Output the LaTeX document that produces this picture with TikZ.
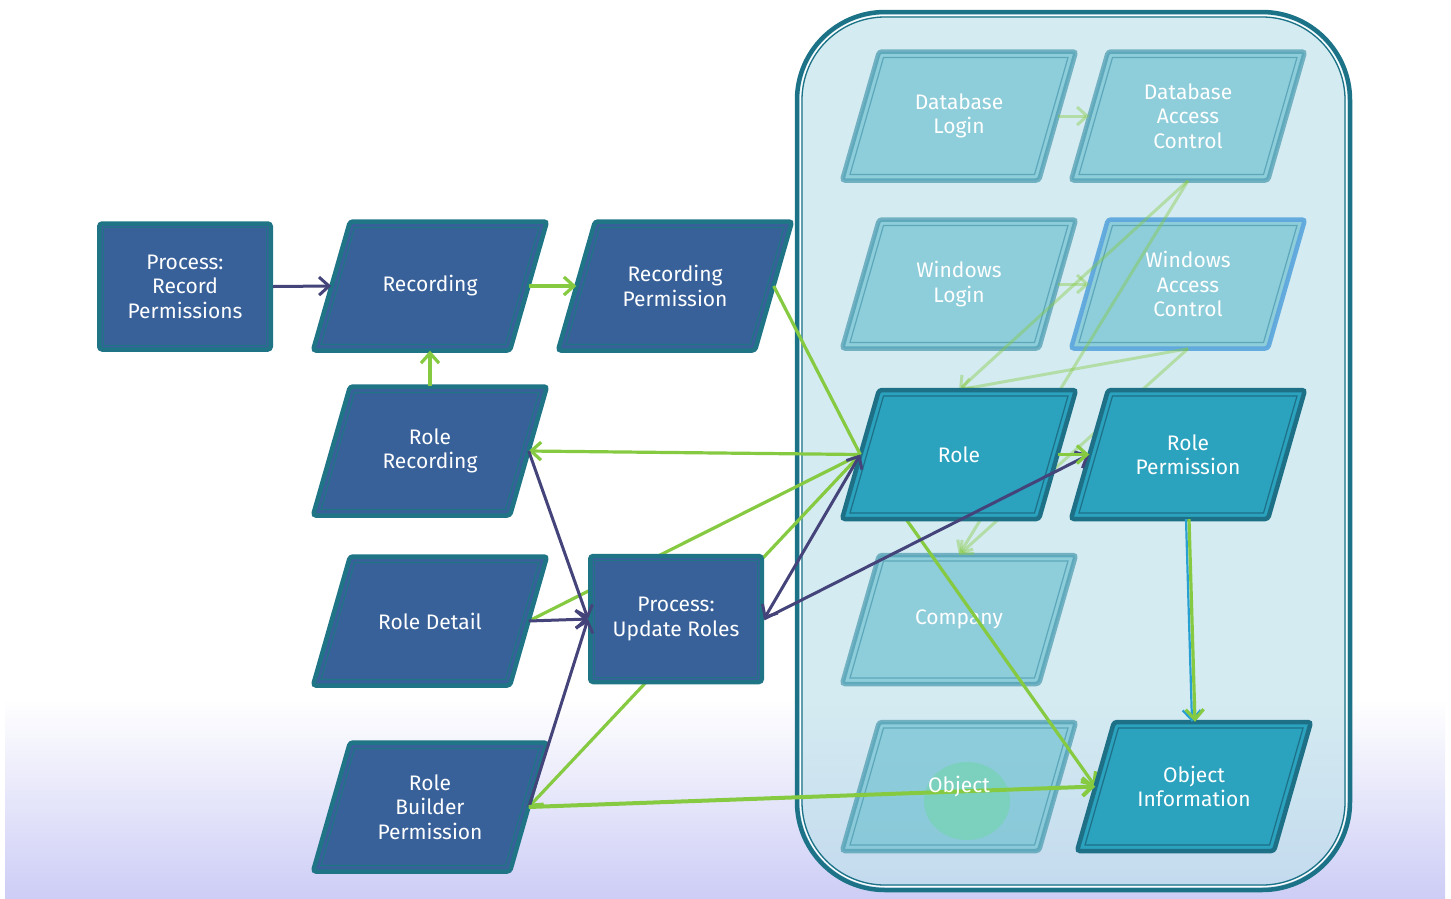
\documentclass[tikz,border=0pt]{standalone}
\usepackage{fontspec}
\setmainfont{Fira Sans}
\usetikzlibrary{arrows.meta,calc}
\definecolor{dblue}{RGB}{56,97,153}
\definecolor{tealb}{RGB}{31,117,134}
\definecolor{rolef}{RGB}{43,162,190}
\definecolor{roleb}{RGB}{30,112,135}
\definecolor{lightf}{RGB}{113,193,209}
\definecolor{lightb}{RGB}{80,158,178}
\definecolor{wacb}{RGB}{95,168,222}
\definecolor{cGreen}{RGB}{134,202,66}
\definecolor{cPurple}{RGB}{68,68,122}
\definecolor{cBlue}{RGB}{40,160,210}
\definecolor{contf}{RGB}{190,225,235}
\definecolor{contb}{RGB}{28,115,135}
\definecolor{gradmid}{RGB}{214,232,252}
\definecolor{gradbot}{RGB}{205,205,246}
\definecolor{blob}{RGB}{118,212,180}
\pgfdeclarelayer{bg}
\pgfdeclarelayer{light}
\pgfdeclarelayer{faint}
\pgfsetlayers{bg,light,faint,main}
% #1 outer style, #2 inner style, #3 name, #4 cx, #5 cy, #6 text
\newcommand\plg[6]{%
  \draw[#1] (#4-80,#5-64.5) -- (#4+117,#5-64.5) -- (#4+80,#5+64.5) -- (#4-117,#5+64.5) -- cycle;
  \draw[#2] (#4-75.5,#5-58.5) -- (#4+109,#5-58.5) -- (#4+75.5,#5+58.5) -- (#4-109,#5+58.5) -- cycle;
  \node[txt] (#3) at (#4,#5) {#6};
}
\begin{document}
\begin{tikzpicture}[x=1pt,y=-1pt,
  >={Straight Barb[length=10pt,width=18pt]},
  txt/.style={inner sep=0pt, minimum width=197pt, minimum height=129pt, align=center, text=white,
    font=\fontsize{21}{24.5}\selectfont},
  darkout/.style={draw=tealb, fill=dblue, line width=4.5pt, rounded corners=3pt},
  darkin/.style={draw=tealb, line width=1.2pt},
  roleout/.style={draw=roleb, fill=rolef, line width=4.5pt, rounded corners=3pt},
  rolein/.style={draw=roleb, line width=1.2pt},
  lightout/.style={draw=lightb, fill=lightf, fill opacity=.7, draw opacity=.75, line width=4.5pt, rounded corners=3pt},
  lightin/.style={draw=lightb, draw opacity=.8, line width=1.2pt},
  wacout/.style={draw=wacb, fill=lightf, fill opacity=.7, draw opacity=.95, line width=4.5pt, rounded corners=3pt},
  procbox/.style={draw=tealb, fill=dblue, line width=4.5pt, rounded corners=3pt, inner sep=0pt,
    minimum width=171.5pt, minimum height=126pt, align=center, text=white,
    font=\fontsize{21}{24.5}\selectfont},
  gline/.style={draw=cGreen, line width=3.2pt},
  pline/.style={draw=cPurple, line width=3pt},
  bline/.style={draw=cBlue, line width=2.2pt},
  faintline/.style={draw=cGreen, draw opacity=.42, line width=3pt},
]
\useasboundingbox (0,0) rectangle (1451,898);
\begin{pgfonlayer}{bg}
  \fill[white] (0,0) rectangle (1451,898);
  \shade[top color=white, middle color=gradmid, bottom color=gradbot] (5,700) rectangle (1445,898);
  \fill[contf, fill opacity=.65, rounded corners=88pt] (797,12) rectangle (1350,890);
  \draw[contb, line width=4.5pt, rounded corners=88pt] (797,12) rectangle (1350,890);
  \draw[white, line width=1.2pt, rounded corners=84.5pt] (800.5,15.5) rectangle (1346.5,886.5);
  \draw[contb, line width=1.3pt, rounded corners=83pt] (802,17) rectangle (1345,885);
\end{pgfonlayer}
\begin{pgfonlayer}{light}
  \plg{lightout}{lightin}{dbl}{959}{116}{Database\\Login}
  \plg{lightout}{lightin}{dbac}{1188}{116}{Database\\Access\\Control}
  \plg{lightout}{lightin}{wl}{959}{284}{Windows\\Login}
  \plg{wacout}{lightin}{wac}{1188}{284}{Windows\\Access\\Control}
  \plg{lightout}{lightin}{comp}{959}{619.5}{Company}
  \plg{lightout}{lightin}{obj}{959}{786.5}{}
  \fill[blob, fill opacity=.75] (967,801) ellipse [x radius=43pt, y radius=39pt];
\end{pgfonlayer}
% dark nodes
\node[procbox] (prp) at (185,286.5) {Process:\\Record\\Permissions};
\draw[darkin] ([shift={(6.5,6.5)}]prp.north west) rectangle ([shift={(-6.5,-6.5)}]prp.south east);
\node[procbox] (pur) at (676,619) {Process:\\Update Roles};
\draw[darkin] ([shift={(6.5,6.5)}]pur.north west) rectangle ([shift={(-6.5,-6.5)}]pur.south east);
\plg{darkout}{darkin}{rec}{430}{286}{Recording}
\plg{darkout}{darkin}{recp}{675}{286}{Recording\\Permission}
\plg{darkout}{darkin}{rrec}{430}{451}{Role\\Recording}
\plg{darkout}{darkin}{rdet}{430}{621}{Role Detail}
\plg{darkout}{darkin}{rbp}{430}{807}{Role\\Builder\\Permission}
\plg{roleout}{rolein}{role}{959}{454.5}{Role}
\plg{roleout}{rolein}{rp}{1188}{454.5}{Role\\Permission}
\plg{roleout}{rolein}{oi}{1194}{786.5}{Object\\Information}
% faint and hidden connectors
\begin{pgfonlayer}{faint}
  \draw[faintline,->] (dbl.east) -- (dbac.west);
  \draw[faintline,->] (wl.east) -- (wac.west);
  \draw[faintline,->] (dbac.south) -- (role.north);
  \draw[faintline,->] (dbac.south) -- (comp.north);
  \draw[faintline,->] (wac.south) -- (role.north);
  \draw[faintline,->] (wac.south) -- (comp.north);
  \draw[gline] (rdet.east) -- (role.west);
  \draw[gline,->] (role.west) -- (rbp.east);
  \draw[gline,->] (role.west) -- (oi.west);
\end{pgfonlayer}
% visible connectors
\draw[pline,->] (prp.east) -- (rec.west);
\draw[gline,->] (rec.east) -- (recp.west);
\draw[gline,->] (rrec.north) -- (rec.south);
\draw[gline] (recp.east) -- (role.west);
\draw[gline,->] (role.west) -- (rrec.east);
\draw[pline,->] (rrec.east) -- (pur.west);
\draw[pline,->] (rdet.east) -- (pur.west);
\draw[pline,->] (rbp.east) -- (pur.west);
\draw[gline,->,line width=4pt] (rbp.east) -- (oi.west);
\draw[pline,<->] (pur.east) -- (role.west);
\draw[pline,->] (pur.east) -- (rp.west);
\draw[gline,->] (role.east) -- (rp.west);
\draw[bline,->] ([xshift=-2pt]rp.south) -- ([xshift=-2pt]oi.north);
\draw[gline,->] ([xshift=1pt]rp.south) -- ([xshift=1pt]oi.north);
\node[txt] (objtext) at (obj) {Object};
\end{tikzpicture}
\end{document}
